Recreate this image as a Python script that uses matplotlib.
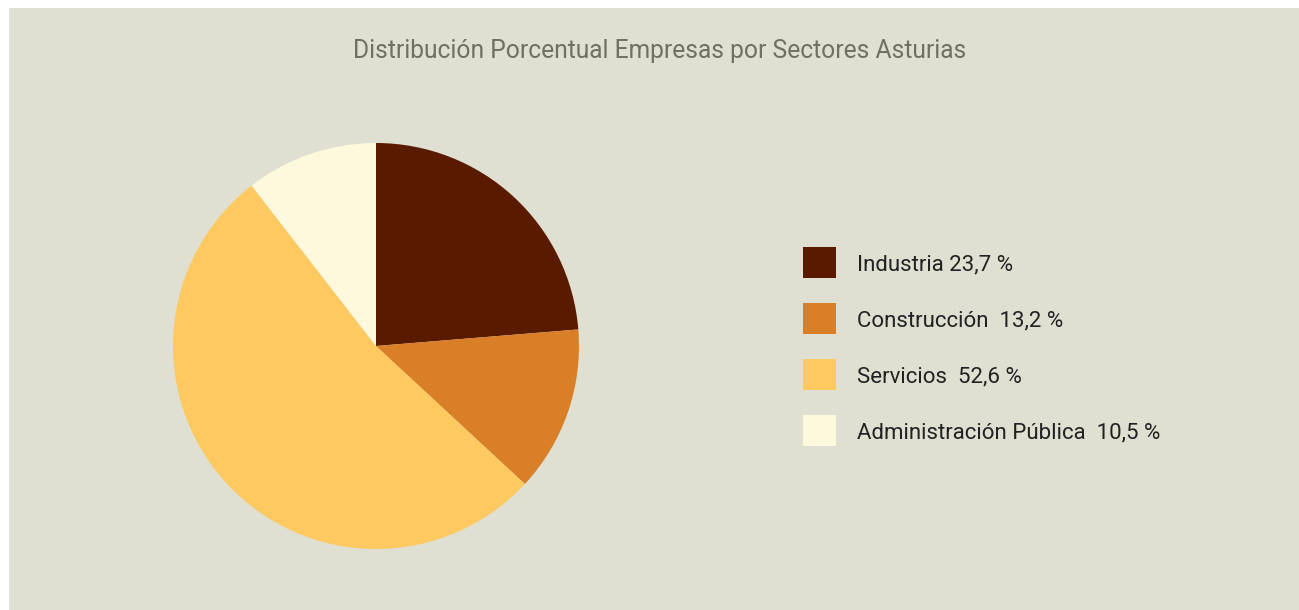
import matplotlib
matplotlib.use("Agg")
import matplotlib.pyplot as plt
from matplotlib.patches import Rectangle

categories = ["Industria", "Construcción", "Servicios", "Administración Pública"]
values = [23.7, 13.2, 52.6, 10.5]
legend_labels = ["Industria 23,7 %", "Construcción  13,2 %", "Servicios  52,6 %",
                 "Administración Pública  10,5 %"]
colors = ["#5a1a00", "#d97f28", "#fec961", "#fef9dd"]
title = "Distribución Porcentual Empresas por Sectores Asturias"

W, H = 1299, 610
plt.rcParams['font.family'] = ['Roboto', 'DejaVu Sans']
fig = plt.figure(figsize=(W / 100, H / 100), dpi=100, facecolor="white")
fig.patches.append(Rectangle((9 / W, 0), 1 - 9 / W, 1 - 8 / H, transform=fig.transFigure,
                             facecolor="#dfe0d2", edgecolor="none", zorder=-10))

cx, cy, r = 376, 346, 203
ax = fig.add_axes([(cx - r) / W, (H - cy - r) / H, 2 * r / W, 2 * r / H])
wedges, _ = ax.pie(values, colors=colors, startangle=90, counterclock=False,
                   wedgeprops=dict(linewidth=0))
ax.set_xlim(-1, 1)
ax.set_ylim(-1, 1)
ax.set_aspect("equal")
ax.axis("off")

fig.text(660 / W, 1 - 51 / H, title, ha="center", va="center", fontsize=17.7, color="#707062")

# legend drawn in figure pixel layout
box_x, box_w, box_h = 803, 33, 31
text_x = 857
row0, row_step = 262.5, 56
for i, (lab, col) in enumerate(zip(legend_labels, colors)):
    yc = row0 + i * row_step
    fig.patches.append(Rectangle((box_x / W, 1 - (yc + box_h / 2) / H), box_w / W, box_h / H,
                                 transform=fig.transFigure, facecolor=col, edgecolor="none"))
    fig.text(text_x / W, 1 - yc / H, lab, ha="left", va="center_baseline", fontsize=16,
             color="#222222")

fig.savefig("out.png", dpi=100, facecolor="white")
